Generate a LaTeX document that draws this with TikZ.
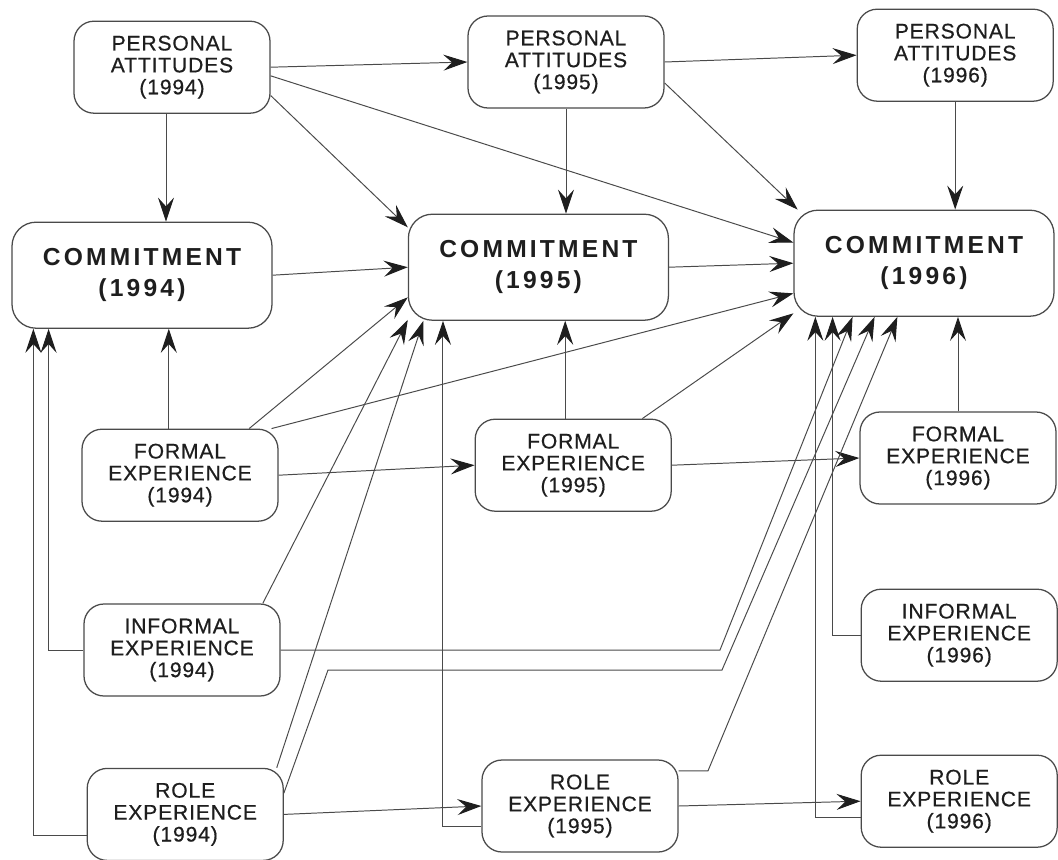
\documentclass[tikz,border=0pt]{standalone}
\usepackage{fontspec}
\setmainfont{Liberation Sans}
\newfontfamily\factorfont[LetterSpace=4,FakeBold=0.6]{Liberation Sans}
\newfontfamily\commitfont[LetterSpace=13]{Liberation Sans}
\usetikzlibrary{arrows.meta}
\definecolor{ink}{HTML}{1E1E1E}
\definecolor{wire}{HTML}{4A4A4A}

\begin{document}
\begin{tikzpicture}[
  factor/.style={draw=wire,line width=0.9pt,rounded corners=0.5cm,align=center,
    minimum width=4.9cm,minimum height=2.3cm,inner sep=0pt,text=ink,
    font=\factorfont\fontsize{15}{15.6}\selectfont},
  commit/.style={factor,rounded corners=0.6cm,minimum width=6.5cm,minimum height=2.65cm,
    font=\commitfont\bfseries\fontsize{17.5}{22}\selectfont},
  link/.style={draw=wire,line width=0.7pt,
    -{Stealth[length=6mm,width=4mm,inset=2.2mm,color=ink]}}
]
  \useasboundingbox (0,0) rectangle (26.45,-21.475);

  % Personal attitudes
  \node[factor] (PA94) at (4.30,-1.68) {PERSONAL\\ATTITUDES\\(1994)};
  \node[factor] (PA95) at (14.15,-1.55) {PERSONAL\\ATTITUDES\\(1995)};
  \node[factor] (PA96) at (23.88,-1.38) {PERSONAL\\ATTITUDES\\(1996)};

  % Commitment
  \node[commit] (C94) at (3.55,-6.88) {COMMITMENT\\(1994)};
  \node[commit] (C95) at (13.46,-6.68) {COMMITMENT\\(1995)};
  \node[commit] (C96) at (23.10,-6.58) {COMMITMENT\\(1996)};

  % Experience
  \node[factor] (FE94) at (4.50,-11.88) {FORMAL\\EXPERIENCE\\(1994)};
  \node[factor] (FE95) at (14.33,-11.63) {FORMAL\\EXPERIENCE\\(1995)};
  \node[factor] (FE96) at (23.95,-11.45) {FORMAL\\EXPERIENCE\\(1996)};
  \node[factor] (IE94) at (4.55,-16.25) {INFORMAL\\EXPERIENCE\\(1994)};
  \node[factor] (IE96) at (23.98,-15.88) {INFORMAL\\EXPERIENCE\\(1996)};
  \node[factor] (RE94) at (4.63,-20.36) {ROLE\\EXPERIENCE\\(1994)};
  \node[factor] (RE95) at (14.50,-20.15) {ROLE\\EXPERIENCE\\(1995)};
  \node[factor] (RE96) at (23.98,-20.03) {ROLE\\EXPERIENCE\\(1996)};

  % Bends of the long lines
  \coordinate (kinkA) at (18.0,-16.05);
  \coordinate (kinkB) at (8.2,-16.75);
  \coordinate (kinkC) at (18.05,-16.75);
  \coordinate (kinkD) at (17.7,-19.27);

  % Attitudes paths
  \draw[link] (PA94.east) -- (PA95.west);
  \draw[link] (PA95.east) -- (PA96.west);
  \draw[link] ([xshift=-0.15cm]PA94.south) -- ([xshift=-0.15cm]PA94.south |- C94.north);
  \draw[link] (PA94.-16) -- (C95.163);
  \draw[link] (PA94.-5) -- (C96.171);
  \draw[link] (PA95.south) -- (PA95.south |- C95.north);
  \draw[link] (PA95.-12) -- (C96.157);
  \draw[link] (PA96.south) -- (PA96.south |- C96.north);

  % Commitment paths
  \draw[link] (C94.east) -- (C95.west);
  \draw[link] (C95.east) -- (C96.west);

  % Formal experience paths
  \draw[link] ([xshift=-0.28cm]FE94.north) -- ([xshift=-0.28cm]FE94.north |- C94.south);
  \draw[link] (FE94.34) -- (C95.193);
  \draw[link] (FE94.27) -- (C96.193);
  \draw[link] (FE94.east) -- (FE95.west);
  \draw[link] ([xshift=-0.2cm]FE95.north) -- ([xshift=-0.2cm]FE95.north |- C95.south);
  \draw[link] (FE95.34) -- (C96.201);
  \draw[link] (FE95.east) -- (FE96.west);
  \draw[link] (FE96.north) -- (FE96.north |- C96.south);

  % Informal experience paths
  \draw[link] (IE94.west) -| ([xshift=0.93cm]C94.south west);
  \draw[link] (IE94.30) -- (C95.202);
  \draw[link] (IE94.east) -- (IE94.east -| kinkA) -- ([xshift=1.48cm]C96.south west);
  \draw[link] (IE96.west) -| ([xshift=0.98cm]C96.south west);

  % Role experience paths
  \draw[link] ([yshift=-0.52cm]RE94.west) -| ([xshift=0.55cm]C94.south west);
  \draw[link] (RE94.27) -- (C95.205);
  \draw[link] ([yshift=0.53cm]RE94.east) -- (kinkB) -- (kinkC) -- ([xshift=2.03cm]C96.south west);
  \draw[link] (RE94.east) -- (RE95.west);
  \draw[link] ([yshift=-0.52cm]RE95.west) -| ([xshift=0.88cm]C95.south west);
  \draw[link] ([yshift=0.88cm]RE95.east) -- (kinkD) -- ([xshift=2.6cm]C96.south west);
  \draw[link] (RE95.east) -- (RE96.west);
  \draw[link] ([yshift=-0.4cm]RE96.west) -| ([xshift=0.55cm]C96.south west);
\end{tikzpicture}
\end{document}
